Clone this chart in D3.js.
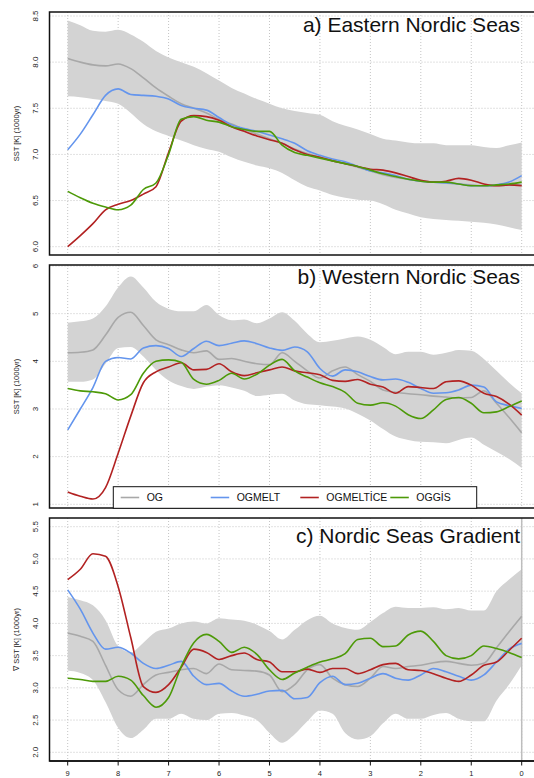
<!DOCTYPE html>
<html>
<head>
<meta charset="utf-8">
<script src="https://cdn.jsdelivr.net/npm/d3@7"></script>
<style>
  body { margin: 0; background: #fff; }
  svg { display: block; font-family: "Liberation Sans", Arial, Helvetica, sans-serif; }
</style>
</head>
<body>
<svg id="chart" width="534" height="778"></svg>
<script>
// Data (ka BP, step 0.25)
const ages = [9, 8.75, 8.5, 8.25, 8, 7.75, 7.5, 7.25, 7, 6.75, 6.5, 6.25, 6, 5.75, 5.5, 5.25, 5, 4.75, 4.5, 4.25,
  4, 3.75, 3.5, 3.25, 3, 2.75, 2.5, 2.25, 2, 1.75, 1.5, 1.25, 1, 0.75, 0.5, 0.25, 0];

const seriesNames = ["OG", "OGMELT", "OGMELTİCE", "OGGİS"];
const seriesColors = ["#a8a8a8", "#6495ed", "#b22222", "#4d9a08"];

// a) Eastern Nordic Seas
const eastOG = [8.04, 8.00, 7.97, 7.96, 7.98, 7.93, 7.83, 7.72, 7.63, 7.55, 7.50, 7.45, 7.38, 7.33, 7.27, 7.22, 7.17, 7.12, 7.06, 7.01,
  6.97, 6.93, 6.90, 6.86, 6.82, 6.78, 6.75, 6.73, 6.71, 6.70, 6.69, 6.68, 6.67, 6.66, 6.66, 6.67, 6.67];
const eastMelt = [7.05, 7.22, 7.43, 7.64, 7.71, 7.65, 7.64, 7.63, 7.60, 7.53, 7.50, 7.48, 7.40, 7.32, 7.28, 7.25, 7.21, 7.17, 7.12, 7.04,
  6.99, 6.95, 6.92, 6.87, 6.82, 6.80, 6.77, 6.73, 6.71, 6.70, 6.69, 6.68, 6.66, 6.66, 6.67, 6.70, 6.77];
const eastMeltIce = [6.00, 6.12, 6.25, 6.40, 6.46, 6.50, 6.57, 6.65, 7.02, 7.36, 7.42, 7.41, 7.37, 7.30, 7.25, 7.20, 7.16, 7.12, 7.05, 7.00,
  6.97, 6.93, 6.90, 6.87, 6.84, 6.83, 6.80, 6.76, 6.72, 6.70, 6.71, 6.74, 6.72, 6.68, 6.66, 6.67, 6.66];
const eastGis = [6.60, 6.53, 6.47, 6.43, 6.40, 6.45, 6.62, 6.69, 7.00, 7.38, 7.41, 7.37, 7.35, 7.30, 7.27, 7.25, 7.25, 7.10, 7.02, 6.99,
  6.96, 6.93, 6.90, 6.87, 6.83, 6.79, 6.76, 6.73, 6.71, 6.70, 6.70, 6.68, 6.66, 6.66, 6.67, 6.68, 6.70];
const eastUpper = [8.45, 8.40, 8.34, 8.33, 8.35, 8.30, 8.22, 8.12, 8.05, 8.00, 7.95, 7.88, 7.80, 7.72, 7.66, 7.60, 7.55, 7.50, 7.47, 7.45,
  7.43, 7.36, 7.31, 7.27, 7.22, 7.17, 7.15, 7.13, 7.12, 7.12, 7.10, 7.10, 7.10, 7.08, 7.07, 7.10, 7.13];
const eastLower = [7.63, 7.62, 7.60, 7.58, 7.55, 7.45, 7.33, 7.25, 7.20, 7.15, 7.10, 7.06, 7.03, 6.97, 6.92, 6.88, 6.85, 6.80, 6.72, 6.65,
  6.61, 6.56, 6.53, 6.51, 6.50, 6.46, 6.40, 6.36, 6.32, 6.30, 6.29, 6.28, 6.27, 6.26, 6.24, 6.21, 6.18];

// b) Western Nordic Seas
const westOG = [4.18, 4.19, 4.24, 4.55, 4.92, 5.03, 4.75, 4.45, 4.35, 4.24, 4.18, 4.22, 4.04, 4.06, 4.00, 3.95, 3.93, 4.18, 4.00, 3.80,
  3.65, 3.80, 3.88, 3.72, 3.58, 3.40, 3.35, 3.32, 3.30, 3.27, 3.25, 3.23, 3.24, 3.38, 3.12, 2.82, 2.50];
const westMelt = [2.56, 3.00, 3.45, 4.00, 4.08, 4.05, 4.28, 4.33, 4.27, 4.10, 4.27, 4.42, 4.33, 4.38, 4.43, 4.37, 4.28, 4.23, 4.30, 4.20,
  3.85, 3.69, 3.82, 3.78, 3.68, 3.61, 3.63, 3.56, 3.43, 3.33, 3.34, 3.40, 3.50, 3.46, 3.15, 3.07, 3.01];
const westMeltIce = [1.26, 1.17, 1.11, 1.35, 2.07, 2.85, 3.55, 3.78, 3.88, 3.97, 3.82, 3.83, 3.95, 3.78, 3.70, 3.76, 3.82, 3.88, 3.80, 3.76,
  3.72, 3.60, 3.58, 3.62, 3.52, 3.46, 3.33, 3.47, 3.45, 3.43, 3.57, 3.59, 3.50, 3.33, 3.26, 3.10, 2.87];
const westGis = [3.43, 3.38, 3.36, 3.32, 3.19, 3.30, 3.75, 4.00, 4.03, 3.98, 3.62, 3.52, 3.60, 3.75, 3.63, 3.73, 3.92, 4.04, 3.80, 3.67,
  3.55, 3.47, 3.35, 3.12, 3.08, 3.13, 3.06, 2.88, 2.80, 2.98, 3.20, 3.24, 3.12, 2.92, 2.94, 3.05, 3.17];
const westUpper = [4.81, 4.84, 4.90, 5.15, 5.55, 5.78, 5.55, 5.25, 5.10, 5.05, 5.05, 5.18, 4.97, 4.86, 4.88, 4.80, 4.90, 5.03, 4.85, 4.58,
  4.40, 4.43, 4.48, 4.52, 4.45, 4.30, 4.15, 4.20, 4.20, 4.14, 4.18, 4.24, 4.22, 4.05, 3.80, 3.55, 3.33];
const westLower = [3.57, 3.57, 3.62, 3.95, 4.28, 4.30, 4.10, 3.82, 3.60, 3.48, 3.42, 3.47, 3.50, 3.45, 3.38, 3.27, 3.30, 3.32, 3.18, 3.10,
  3.08, 3.05, 3.01, 2.90, 2.76, 2.58, 2.42, 2.35, 2.31, 2.30, 2.28, 2.35, 2.40, 2.25, 2.10, 1.95, 1.76];

// c) Nordic Seas Gradient
const gradOG = [3.85, 3.80, 3.72, 3.35, 2.97, 2.87, 3.05, 3.20, 3.24, 3.28, 3.30, 3.22, 3.37, 3.28, 3.27, 3.26, 3.20, 2.94, 3.05, 3.28,
  3.36, 3.15, 3.05, 3.02, 3.15, 3.33, 3.30, 3.33, 3.35, 3.39, 3.41, 3.38, 3.35, 3.38, 3.62, 3.87, 4.11];
const gradMelt = [4.52, 4.22, 3.85, 3.60, 3.63, 3.54, 3.38, 3.30, 3.35, 3.41, 3.18, 3.05, 3.07, 2.95, 2.87, 2.90, 2.95, 2.96, 2.83, 2.85,
  3.08, 3.18, 3.05, 3.07, 3.15, 3.22, 3.15, 3.12, 3.20, 3.30, 3.25, 3.18, 3.12, 3.20, 3.40, 3.60, 3.69];
const gradMeltIce = [4.68, 4.84, 5.08, 5.04, 4.57, 3.78, 3.02, 2.93, 3.05, 3.32, 3.60, 3.55, 3.44, 3.50, 3.54, 3.44, 3.40, 3.25, 3.25, 3.29,
  3.24, 3.30, 3.30, 3.22, 3.28, 3.36, 3.38, 3.28, 3.27, 3.22, 3.15, 3.10, 3.20, 3.35, 3.40, 3.58, 3.77];
const gradGis = [3.15, 3.13, 3.10, 3.10, 3.18, 3.12, 2.88, 2.70, 2.85, 3.33, 3.70, 3.83, 3.72, 3.55, 3.63, 3.52, 3.28, 3.13, 3.23, 3.32,
  3.40, 3.45, 3.53, 3.75, 3.77, 3.64, 3.65, 3.82, 3.88, 3.72, 3.50, 3.45, 3.50, 3.65, 3.61, 3.55, 3.47];
const gradUpper = [4.41, 4.36, 4.28, 4.05, 3.65, 3.55, 3.70, 3.87, 3.92, 4.00, 4.03, 4.00, 4.08, 4.06, 4.04, 3.98, 3.88, 3.75, 3.90, 4.05,
  4.12, 4.00, 3.93, 3.90, 4.02, 4.16, 4.26, 4.24, 4.24, 4.25, 4.22, 4.24, 4.20, 4.20, 4.50, 4.68, 4.84];
const gradLower = [3.27, 3.23, 3.12, 2.78, 2.38, 2.22, 2.35, 2.52, 2.52, 2.60, 2.52, 2.50, 2.60, 2.61, 2.57, 2.50, 2.30, 2.15, 2.28, 2.48,
  2.65, 2.60, 2.30, 2.20, 2.25, 2.45, 2.60, 2.52, 2.52, 2.58, 2.61, 2.52, 2.48, 2.48, 2.80, 3.05, 3.35];

const xTicks = [9, 8, 7, 6, 5, 4, 3, 2, 1, 0];

const panels = [
  {
    title: "a) Eastern Nordic Seas", yLabel: "SST [K] (1000yr)",
    domain: [6, 8.5], ticks: [6, 6.5, 7, 7.5, 8, 8.5], fmt: d3.format(".1f"),
    box: [12, 255], yRange: [246.7, 16], titleY: 31.5,
    series: [eastOG, eastMelt, eastMeltIce, eastGis], upper: eastUpper, lower: eastLower,
  },
  {
    title: "b) Western Nordic Seas", yLabel: "SST [K] (1000yr)",
    domain: [1, 6], ticks: [1, 2, 3, 4, 5, 6], fmt: d3.format("d"),
    box: [265, 508], yRange: [504.3, 266], titleY: 284,
    series: [westOG, westMelt, westMeltIce, westGis], upper: westUpper, lower: westLower,
  },
  {
    title: "c) Nordic Seas Gradient", yLabel: "\u2207 SST [K] (1000yr)",
    domain: [2, 5.5], ticks: [2, 2.5, 3, 3.5, 4, 4.5, 5, 5.5], fmt: d3.format(".1f"),
    box: [518, 761], yRange: [752.3, 526.7], titleY: 542.5,
    series: [gradOG, gradMelt, gradMeltIce, gradGis], upper: gradUpper, lower: gradLower,
  },
];

// Setup
const width = 534;
const boxLeft = 49.5;
const boxRight = 541;
const svg = d3.select("svg#chart");
const x = d3.scaleLinear().domain([9, 0]).range([67.7, 521.7]);

panels.forEach((p, pi) => {
  const y = d3.scaleLinear().domain(p.domain).range(p.yRange);
  const [top, bottom] = p.box;
  const g = svg.append("g");

  g.append("clipPath")
    .attr("id", "clip" + pi)
    .append("rect")
    .attr("x", boxLeft)
    .attr("y", top)
    .attr("width", boxRight - boxLeft)
    .attr("height", bottom - top);

  // Grid
  g.selectAll("line.hgrid")
    .data(p.ticks)
    .join("line")
    .attr("class", "hgrid")
    .attr("x1", boxLeft)
    .attr("x2", width)
    .attr("y1", (d) => y(d))
    .attr("y2", (d) => y(d))
    .style("stroke", "#c4c4c4")
    .style("stroke-width", 1)
    .style("stroke-dasharray", "1,2");

  g.selectAll("line.vgrid")
    .data(xTicks)
    .join("line")
    .attr("class", "vgrid")
    .attr("x1", (d) => x(d))
    .attr("x2", (d) => x(d))
    .attr("y1", top)
    .attr("y2", bottom)
    .style("stroke", "#c4c4c4")
    .style("stroke-width", 1)
    .style("stroke-dasharray", "1,2");

  const plot = g.append("g").attr("clip-path", `url(#clip${pi})`);

  // Spread band
  const area = d3.area()
    .x((d) => x(d))
    .y0((d, i) => y(p.lower[i]))
    .y1((d, i) => y(p.upper[i]))
    .curve(d3.curveMonotoneX);

  plot.append("path")
    .attr("d", area(ages))
    .style("fill", "#d3d3d3")
    .style("stroke", "none");

  if (pi === 2) {
    plot.append("line")
      .attr("x1", x(0))
      .attr("x2", x(0))
      .attr("y1", top)
      .attr("y2", bottom)
      .style("stroke", "#bdbdbd")
      .style("stroke-width", 1.5);
  }

  // Lines
  p.series.forEach((values, si) => {
    const line = d3.line()
      .x((d) => x(d))
      .y((d, i) => y(values[i]))
      .curve(d3.curveMonotoneX);
    plot.append("path")
      .attr("d", line(ages))
      .style("fill", "none")
      .style("stroke", seriesColors[si])
      .style("stroke-width", 1.6);
  });

  // Box
  g.append("rect")
    .attr("x", boxLeft)
    .attr("y", top)
    .attr("width", boxRight - boxLeft)
    .attr("height", bottom - top)
    .style("fill", "none")
    .style("stroke", "#111")
    .style("stroke-width", 1.5);

  // Y tick labels
  g.selectAll("text.ytick")
    .data(p.ticks)
    .join("text")
    .attr("class", "ytick")
    .attr("transform", (d) => `translate(38, ${y(d)}) rotate(-90)`)
    .attr("text-anchor", "middle")
    .attr("font-size", 8)
    .style("fill", "#222")
    .text((d) => p.fmt(d));

  // Y axis title
  g.append("text")
    .attr("transform", `translate(19, ${(top + bottom) / 2}) rotate(-90)`)
    .attr("text-anchor", "middle")
    .attr("font-size", 7.5)
    .style("fill", "#222")
    .text(p.yLabel);

  // Panel title
  g.append("text")
    .attr("x", 520)
    .attr("y", p.titleY)
    .attr("text-anchor", "end")
    .attr("font-size", 21)
    .style("fill", "#111")
    .text(p.title);
});

// X axis
const xAxis = svg.append("g");
xAxis.append("line")
  .attr("x1", boxLeft)
  .attr("x2", width)
  .attr("y1", 761)
  .attr("y2", 761)
  .style("stroke", "#111")
  .style("stroke-width", 1.5);

xAxis.selectAll("line.xtick")
  .data(xTicks)
  .join("line")
  .attr("class", "xtick")
  .attr("x1", (d) => x(d))
  .attr("x2", (d) => x(d))
  .attr("y1", 761)
  .attr("y2", 765.5)
  .style("stroke", "#111")
  .style("stroke-width", 1);

xAxis.selectAll("text.xlabel")
  .data(xTicks)
  .join("text")
  .attr("class", "xlabel")
  .attr("x", (d) => x(d))
  .attr("y", 775.5)
  .attr("text-anchor", "middle")
  .attr("font-size", 7.5)
  .style("fill", "#222")
  .text((d) => d);

// Legend
const legendX = [120.7, 210.7, 300.3, 390.3];
const legend = svg.append("g");
legend.append("rect")
  .attr("x", 113.3)
  .attr("y", 486.7)
  .attr("width", 363.4)
  .attr("height", 21.6)
  .style("fill", "#fff")
  .style("stroke", "#111")
  .style("stroke-width", 1);

const items = legend.selectAll("g.item")
  .data(seriesNames)
  .join("g")
  .attr("class", "item")
  .attr("transform", (d, i) => `translate(${legendX[i]}, 497.5)`);

items.append("line")
  .attr("x1", 0)
  .attr("x2", 18.5)
  .style("stroke", (d, i) => seriesColors[i])
  .style("stroke-width", 1.6);

items.append("text")
  .attr("x", 26)
  .attr("dy", "0.36em")
  .attr("font-size", 10.5)
  .style("fill", "#111")
  .text((d) => d);
</script>
</body>
</html>
